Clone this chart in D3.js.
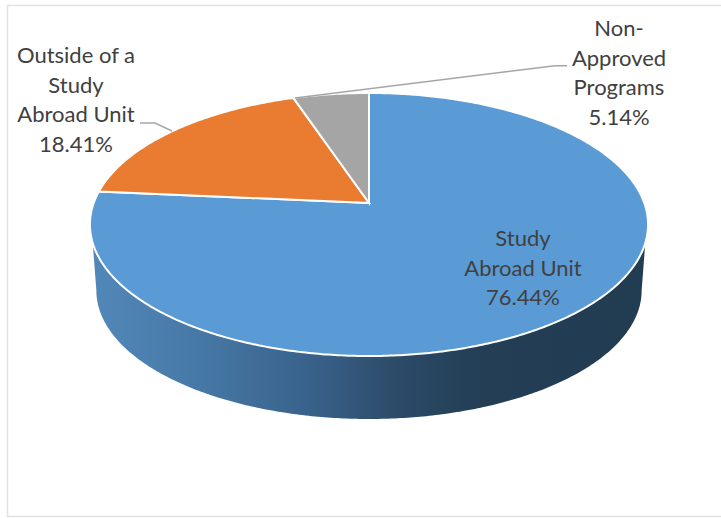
<!DOCTYPE html>
<html><head><meta charset="utf-8">
<script src="https://cdnjs.cloudflare.com/ajax/libs/d3/7.8.5/d3.min.js"></script>
<style>html,body{margin:0;padding:0;background:#fff}svg{display:block}text{font-family:Lato,"Open Sans",sans-serif;font-size:22px;fill:#404040}</style>
</head><body><script>
const categories=["Study Abroad Unit","Outside of a Study Abroad Unit","Non-Approved Programs"];
const values=[76.44,18.41,5.14];
const valueLabels=["76.44%","18.41%","5.14%"];
const labelLines=[["Study","Abroad Unit"],["Outside of a","Study","Abroad Unit"],["Non-","Approved","Programs"]];
const colors=["#5b9bd5","#ea7c31","#a5a5a5"];
const labelPos=[[523,246],[76,63],[619,36]];
const leaders=[null,[[140,123],[155,123],[172,131]],[[567,65.7],[555,65.7],[295,98]]];
const W=721,H=518;
const svg=d3.select("body").append("svg").attr("width",W).attr("height",H);
const k=0.1635;
const sx=d3.scaleLinear().domain([-1,1]).range([-275.3,275.3]);
const sy=d3.scaleLinear().domain([-1,1]).range([128,-128]);
function project(a,scale,cx,cy){const x=Math.sin(a),y=Math.cos(a),w=1+k*y;return [cx+scale*sx(x)/w,cy+scale*sy(y)/w];}
const TOP=a=>project(a,1,369,203);
const BOT=a=>project(a,0.977,369,269.5);
const line=d3.line();
const arcs=d3.pie().sort(null).startAngle(0).endAngle(2*Math.PI)(values);
function samples(a0,a1){const n=Math.max(2,Math.ceil(Math.abs(a1-a0)/0.01));return d3.range(n+1).map(i=>a0+(a1-a0)*i/n);}

const defs=svg.append("defs");
const grad=defs.append("linearGradient").attr("id","wall").attr("gradientUnits","userSpaceOnUse").attr("x1",90).attr("x2",648).attr("y1",0).attr("y2",0);
[[0,"#5288ba"],[0.2,"#4678a5"],[0.4,"#38618a"],[0.55,"#2c4b68"],[0.7,"#233e55"],[1,"#223c52"]].forEach(s=>grad.append("stop").attr("offset",s[0]).attr("stop-color",s[1]));

svg.append("rect").attr("x",7.5).attr("y",5.5).attr("width",W+10).attr("height",511).attr("fill","#fff").attr("stroke","#e2e2e2").attr("stroke-width",1.5);

const rad=d=>d*Math.PI/180;
const wallPts=samples(rad(107.3),rad(252.7)).map(TOP).concat(samples(rad(260.6),rad(99.4)).map(BOT));
svg.append("path").attr("d",line(wallPts)+"Z").attr("fill","url(#wall)");

svg.selectAll("path.slice").data(arcs).join("path").attr("class","slice")
 .attr("d",d=>line([[369,203]].concat(samples(d.startAngle,d.endAngle).map(TOP)))+"Z")
 .attr("fill",(d,i)=>colors[i]).attr("stroke","#fff").attr("stroke-width",2).attr("stroke-linejoin","miter");

leaders.forEach(l=>{if(l)svg.append("path").attr("d",line(l)).attr("fill","none").attr("stroke","#a6a6a6").attr("stroke-width",1.5);});

labelLines.forEach((ls,i)=>{
 const t=svg.append("text").attr("text-anchor","middle");
 ls.concat([valueLabels[i]]).forEach((s,j)=>t.append("tspan").attr("x",labelPos[i][0]).attr("y",labelPos[i][1]+j*29.6).text(s));
});
</script></body></html>
